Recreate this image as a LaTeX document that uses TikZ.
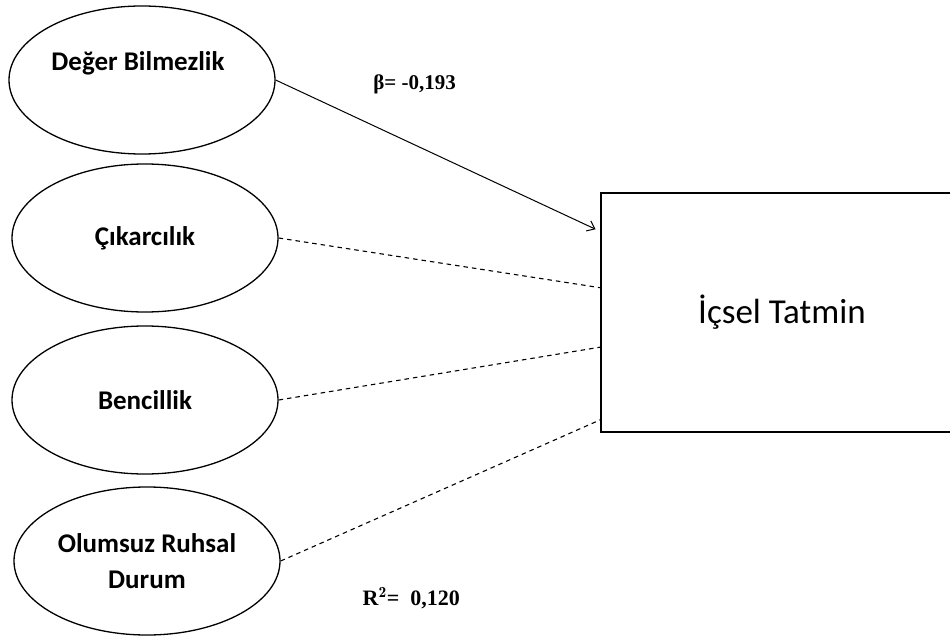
\documentclass[tikz,border=0pt]{standalone}
\usepackage{fontspec}
\newfontfamily\calfont{Carlito}
\newfontfamily\tmsfont{Liberation Serif}
\usetikzlibrary{shapes.geometric,arrows.meta,calc}
\begin{document}
\begin{tikzpicture}[x=1pt,y=-1pt,
  latent/.style={ellipse,draw,line width=1.3pt,inner sep=0pt,minimum width=266pt,minimum height=148pt,align=center,font=\calfont\bfseries\fontsize{27}{32}\selectfont},
  outcome/.style={rectangle,draw,line width=1.8pt,minimum width=362pt,minimum height=239pt,inner sep=0pt,font=\calfont\fontsize{35}{40}\selectfont},
  solidpath/.style={line width=1pt,-{Straight Barb[length=7pt,width=11pt,line width=1pt]},shorten >=5pt},
  dashpath/.style={line width=1.1pt,dash pattern=on 4.5pt off 4pt},
  coef/.style={font=\tmsfont\bfseries\fontsize{21}{24}\selectfont,inner sep=0pt,anchor=east}]
\useasboundingbox (0,0) rectangle (950,639);
\node[latent] (e1) at (142,80) {};
\node[font=\calfont\bfseries\fontsize{27}{32}\selectfont,inner sep=0pt] (t1) at (138,63) {Değer Bilmezlik};
\node[latent] (e2) at (145,238) {Çıkarcılık};
\node[latent] (e3) at (145,400) {Bencillik};
\node[latent] (e4) at (147,561) {Olumsuz Ruhsal\\[4pt]Durum};
\node[outcome] (box) at (782,312.5) {İçsel Tatmin};
\draw[solidpath] (e1.east) -- ($(box.north west)!0.163!(box.south west)$);
\draw[dashpath] (e2.east) -- ($(box.north west)!0.397!(box.south west)$);
\draw[dashpath] (e3.east) -- ($(box.north west)!0.644!(box.south west)$);
\draw[dashpath] (e4.east) -- ($(box.north west)!0.946!(box.south west)$);
\node[coef] (beta) at (456,84) {β= -0,193};
\node[coef,font=\tmsfont\bfseries\fontsize{22}{26}\selectfont] (r2) at (460,598) {R$^{\mathbf 2}$=\ \ 0,120};
\end{tikzpicture}
\end{document}
